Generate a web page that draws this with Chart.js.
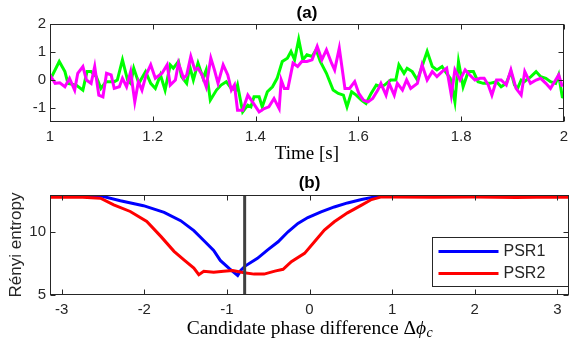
<!DOCTYPE html>
<html>
<head>
<meta charset="utf-8">
<script src="https://cdn.jsdelivr.net/npm/chart.js@4.4.0/dist/chart.umd.min.js"></script>
<style>
  html, body { margin: 0; padding: 0; background: #fff; }
  body { width: 574px; height: 345px; position: relative; overflow: hidden; }
  canvas { position: absolute; left: 0; }
  #c1 { top: 0; }
  #c2 { top: 170px; }
</style>
</head>
<body>
<canvas id="c1" width="574" height="170"></canvas>
<canvas id="c2" width="574" height="175"></canvas>
<script>
// ---------- (a) time series ----------
const timeGreen = [1.000,1.018,1.029,1.035,1.051,1.064,1.072,1.080,1.090,1.099,1.109,1.125,1.131,1.141,1.151,1.157,1.163,1.173,1.186,1.196,1.205,1.215,1.224,1.234,1.240,1.250,1.256,1.266,1.272,1.279,1.288,1.298,1.304,1.312,1.324,1.333,1.343,1.353,1.362,1.365,1.375,1.385,1.391,1.397,1.407,1.413,1.423,1.433,1.442,1.452,1.462,1.469,1.476,1.484,1.492,1.500,1.510,1.518,1.526,1.538,1.551,1.561,1.571,1.578,1.587,1.596,1.606,1.615,1.625,1.635,1.644,1.651,1.663,1.673,1.679,1.689,1.695,1.705,1.715,1.724,1.734,1.744,1.753,1.763,1.772,1.779,1.788,1.795,1.804,1.814,1.824,1.833,1.843,1.856,1.869,1.878,1.888,1.897,1.904,1.910,1.917,1.923,1.936,1.946,1.955,1.965,1.974,1.984,1.990,1.997,2.000];
const signalGreen = [0.00,0.66,0.30,-0.12,-0.18,-0.36,0.30,0.30,0.12,-0.30,-0.06,-0.06,0.00,0.72,0.00,-0.12,0.42,-0.12,0.30,-0.12,-0.30,0.18,-0.36,0.54,0.42,0.66,0.12,-0.12,0.48,0.00,0.60,0.06,0.36,-0.72,-0.36,-0.18,-0.06,-0.30,-0.36,-0.18,-1.14,-0.90,-0.96,-0.60,-0.60,-0.96,-0.42,-0.24,0.06,0.66,0.78,1.02,0.72,1.45,0.72,0.90,0.84,1.08,0.66,0.24,-0.36,-0.48,-0.54,-0.96,-0.42,-0.54,-0.72,-0.84,-0.48,-0.18,-0.24,-0.18,0.00,0.00,0.54,0.24,0.42,0.30,0.00,0.48,1.02,0.48,0.36,0.48,0.24,0.06,-0.78,0.66,-0.24,0.30,0.30,-0.06,-0.12,-0.12,-0.06,-0.24,-0.12,0.30,-0.18,-0.30,0.00,-0.06,0.12,0.30,0.12,0.06,-0.06,-0.12,0.18,-0.60,-0.62];
const timeMagenta = [1.000,1.010,1.019,1.029,1.038,1.048,1.054,1.064,1.071,1.080,1.087,1.095,1.103,1.110,1.119,1.125,1.135,1.141,1.149,1.157,1.165,1.172,1.179,1.187,1.196,1.205,1.218,1.228,1.234,1.244,1.250,1.260,1.266,1.274,1.282,1.288,1.296,1.304,1.313,1.320,1.327,1.337,1.346,1.353,1.359,1.365,1.375,1.385,1.394,1.407,1.417,1.426,1.436,1.446,1.450,1.456,1.463,1.473,1.482,1.490,1.500,1.510,1.520,1.529,1.538,1.548,1.554,1.563,1.574,1.583,1.593,1.601,1.610,1.619,1.628,1.638,1.644,1.654,1.660,1.670,1.676,1.686,1.694,1.702,1.715,1.724,1.734,1.744,1.753,1.763,1.772,1.781,1.788,1.798,1.808,1.817,1.827,1.837,1.845,1.853,1.860,1.869,1.878,1.888,1.897,1.907,1.917,1.924,1.935,1.946,1.955,1.965,1.974,1.984,1.990,1.997];
const signalMagenta = [0.18,-0.12,-0.10,-0.24,0.06,-0.36,0.24,0.48,0.00,-0.12,0.48,-0.54,-0.60,0.24,0.18,-0.30,-0.24,0.06,-0.24,0.30,-0.78,-0.06,-0.36,0.18,0.54,0.06,0.24,0.54,-0.18,0.00,0.60,0.06,0.18,0.84,0.36,0.42,0.18,-0.24,0.78,0.36,-0.12,0.54,0.18,-0.36,-0.18,-1.08,-1.08,-0.54,-0.78,-1.14,-1.02,-0.96,-0.66,-1.02,0.00,-0.30,-0.30,0.60,0.48,0.66,0.66,0.72,1.20,0.72,1.08,0.60,0.36,1.14,-0.30,-0.30,-0.06,-0.48,-0.72,-0.78,-0.66,-0.36,-0.12,-0.54,-0.12,-0.54,-0.12,-0.36,0.00,-0.30,-0.12,0.54,0.00,0.30,0.12,0.30,0.42,-0.54,0.36,0.00,0.36,0.18,0.00,0.06,0.06,-0.18,-0.54,0.00,0.00,-0.18,0.36,-0.30,-0.54,0.30,-0.12,0.00,0.06,-0.12,-0.30,0.00,0.18,-0.24];
const timeTicks = [1, 1.2, 1.4, 1.6, 1.8, 2];
const timeTickLabels = ['1', '1.2', '1.4', '1.6', '1.8', '2'];
const signalTicks = [-1, 0, 1, 2];
const signalTickLabels = ['-1', '0', '1', '2'];

// ---------- (b) Renyi entropy ----------
const phasePSR1 = [-3.1416,-2.8,-2.53,-2.29,-2.01,-1.76,-1.56,-1.40,-1.28,-1.16,-1.08,-0.97,-0.87,-0.83,-0.78,-0.63,-0.51,-0.38,-0.26,-0.14,-0.02,0.14,0.30,0.46,0.63,0.79,0.95,1.3,1.8,2.3,2.8,3.1416];
const entropyPSR1 = [12.88,12.89,12.88,12.49,12.10,11.57,10.91,10.12,9.33,8.54,7.75,7.09,6.55,6.98,7.30,7.91,8.57,9.23,10.03,10.69,11.16,11.61,12.00,12.32,12.59,12.80,12.88,12.90,12.90,12.89,12.90,12.89];
const phasePSR2 = [-3.1416,-2.8,-2.53,-2.37,-2.17,-1.97,-1.80,-1.64,-1.52,-1.40,-1.34,-1.28,-1.16,-1.04,-0.93,-0.79,-0.67,-0.55,-0.42,-0.32,-0.22,-0.06,0.06,0.18,0.30,0.46,0.63,0.75,0.87,1.0,1.5,2.0,2.5,3.0,3.1416];
const entropyPSR2 = [12.78,12.80,12.70,12.17,11.64,10.85,9.66,8.47,7.80,7.14,6.61,6.88,6.80,6.88,6.95,6.77,6.66,6.66,6.90,7.04,7.65,8.31,9.23,10.16,10.82,11.53,12.14,12.59,12.80,12.79,12.78,12.80,12.76,12.80,12.78];
const markerPhase = -0.785;
const phaseTicks = [-3, -2, -1, 0, 1, 2, 3];
const phaseTickLabels = ['-3', '-2', '-1', '0', '1', '2', '3'];
const entropyTicks = [5, 10];
const entropyTickLabels = ['5', '10'];
const seriesLabels = ['PSR1', 'PSR2'];

const SANS = '"Liberation Sans", Arial, Helvetica, sans-serif';
const SERIF = '"Liberation Serif", "Times New Roman", serif';
const AXC = '#262626';

const zip = (xs, ys) => xs.map((x, i) => ({x, y: ys[i]}));

function frameAndTicks(title) {
  return {
    id: 'frame_' + title.replace(/\W/g, ''),
    afterDatasetsDraw(chart) {
      const {ctx, chartArea: a, scales: {x, y}} = chart;
      ctx.save();
      ctx.strokeStyle = AXC;
      ctx.lineWidth = 1;
      const L = Math.round(a.left) + 0.5, R = Math.round(a.right) - 0.5;
      const T = Math.round(a.top) + 0.5, B = Math.round(a.bottom) - 0.5;
      ctx.strokeRect(L, T, R - L, B - T);
      const tl = 5;
      ctx.beginPath();
      x.ticks.forEach(t => {
        const px = Math.round(x.getPixelForValue(t.value)) + 0.5;
        ctx.moveTo(px, B); ctx.lineTo(px, B - tl);
        ctx.moveTo(px, T); ctx.lineTo(px, T + tl);
      });
      y.ticks.forEach(t => {
        const py = Math.round(y.getPixelForValue(t.value)) + 0.5;
        ctx.moveTo(L, py); ctx.lineTo(L + tl, py);
        ctx.moveTo(R, py); ctx.lineTo(R - tl, py);
      });
      ctx.stroke();
      // panel title
      ctx.fillStyle = '#000';
      ctx.font = 'bold 17px ' + SANS;
      ctx.textAlign = 'center';
      ctx.textBaseline = 'middle';
      ctx.fillText(title, (a.left + a.right) / 2, 13.5);
      ctx.restore();
    }
  };
}

function setTicks(values) {
  return s => { s.ticks = values.map(v => ({value: v})); };
}

// ---------- Chart (a) ----------
new Chart(document.getElementById('c1'), {
  type: 'scatter',
  data: {
    datasets: [
      { data: zip(timeMagenta, signalMagenta), borderColor: '#ff00ff', borderWidth: 3, showLine: true, pointRadius: 0, tension: 0 },
      { data: zip(timeGreen, signalGreen), borderColor: '#00ff00', borderWidth: 3, showLine: true, pointRadius: 0, tension: 0 }
    ]
  },
  options: {
    responsive: false, animation: false, events: [],
    layout: { padding: { left: 0, right: 5, top: 24, bottom: 0 } },
    plugins: { legend: { display: false }, tooltip: { enabled: false } },
    scales: {
      x: {
        type: 'linear', min: 1, max: 2,
        grid: { display: false, drawTicks: false }, border: { display: false },
        afterBuildTicks: setTicks(timeTicks),
        afterFit: s => { s.height = 48; },
        ticks: { maxRotation: 0, padding: 6, color: AXC, font: { family: SANS, size: 15 },
                 callback: (v, i) => timeTickLabels[i] },
        title: { display: true, text: 'Time [s]', color: '#000', font: { family: SERIF, size: 19 },
                 padding: { top: 0, bottom: 5 } }
      },
      y: {
        type: 'linear', min: -1.5, max: 2,
        grid: { display: false, drawTicks: false }, border: { display: false },
        afterBuildTicks: setTicks(signalTicks),
        afterFit: s => { s.width = 50; },
        ticks: { padding: 4, color: AXC, font: { family: SANS, size: 15 },
                 callback: (v, i) => signalTickLabels[i] }
      }
    }
  },
  plugins: [frameAndTicks('(a)')]
});

// ---------- Chart (b) ----------
const legendAndLabel = {
  id: 'legendAndLabel',
  afterDraw(chart) {
    const {ctx, chartArea: a} = chart;
    ctx.save();
    // legend box
    const bw = 136, bh = 49;
    const bx = Math.round(a.right) - 1 - bw + 0.5, by = Math.round(a.top) + 42 + 0.5;
    ctx.fillStyle = '#fff';
    ctx.fillRect(bx, by, bw, bh);
    ctx.strokeStyle = AXC; ctx.lineWidth = 1;
    ctx.strokeRect(bx, by, bw, bh);
    const entries = seriesLabels.map(lbl => chart.data.datasets.find(d => d.label === lbl));
    ctx.font = '16px ' + SANS;
    ctx.textAlign = 'left'; ctx.textBaseline = 'middle';
    entries.forEach((d, i) => {
      const ly = by + 14 + i * 22;
      ctx.strokeStyle = d.borderColor; ctx.lineWidth = 3;
      ctx.beginPath(); ctx.moveTo(bx + 6, ly); ctx.lineTo(bx + 66, ly); ctx.stroke();
      ctx.fillStyle = AXC;
      ctx.fillText(d.label, bx + 71, ly + 0.5);
    });
    // x-axis label with subscript
    const cy = 158;
    const f1 = '19.5px ' + SERIF, f2 = 'italic 19.5px ' + SERIF, f3 = 'italic 14px ' + SERIF;
    const p1 = 'Candidate phase difference \u0394', p2 = '\u03D5', p3 = 'c';
    ctx.font = f1; const w1 = ctx.measureText(p1).width;
    ctx.font = f2; const w2 = ctx.measureText(p2).width;
    ctx.font = f3; const w3 = ctx.measureText(p3).width;
    let sx = (a.left + a.right) / 2 - (w1 + w2 + w3) / 2;
    ctx.fillStyle = '#000'; ctx.textBaseline = 'alphabetic';
    const base = cy + 5.5;
    ctx.font = f1; ctx.fillText(p1, sx, base); sx += w1;
    ctx.font = f2; ctx.fillText(p2, sx, base); sx += w2 + 0.5;
    ctx.font = f3; ctx.fillText(p3, sx, base + 3.5);
    ctx.restore();
  }
};

new Chart(document.getElementById('c2'), {
  type: 'scatter',
  data: {
    datasets: [
      { label: 'marker', data: [{x: markerPhase, y: 5}, {x: markerPhase, y: 12.95}], borderColor: '#404040', borderWidth: 3, showLine: true, pointRadius: 0 },
      { label: seriesLabels[1], data: zip(phasePSR2, entropyPSR2), borderColor: '#ff0000', borderWidth: 3, showLine: true, pointRadius: 0, tension: 0 },
      { label: seriesLabels[0], data: zip(phasePSR1, entropyPSR1), borderColor: '#0000ff', borderWidth: 3, showLine: true, pointRadius: 0, tension: 0 }
    ]
  },
  options: {
    responsive: false, animation: false, events: [],
    layout: { padding: { left: 0, right: 5, top: 25, bottom: 0 } },
    plugins: { legend: { display: false }, tooltip: { enabled: false } },
    scales: {
      x: {
        type: 'linear', min: -Math.PI, max: Math.PI,
        grid: { display: false, drawTicks: false }, border: { display: false },
        afterBuildTicks: setTicks(phaseTicks),
        afterFit: s => { s.height = 50; },
        ticks: { maxRotation: 0, padding: 6, color: AXC, font: { family: SANS, size: 15 },
                 callback: (v, i) => phaseTickLabels[i] }
      },
      y: {
        type: 'linear', min: 5, max: 12.95,
        grid: { display: false, drawTicks: false }, border: { display: false },
        afterBuildTicks: setTicks(entropyTicks),
        afterFit: s => { s.width = 50; },
        ticks: { padding: 4, color: AXC, font: { family: SANS, size: 15 },
                 callback: (v, i) => entropyTickLabels[i] },
        title: { display: true, text: 'Rényi entropy', color: AXC, font: { family: SANS, size: 17 },
                 padding: { top: 6, bottom: 0 } }
      }
    }
  },
  plugins: [frameAndTicks('(b)'), legendAndLabel]
});
</script>
</body>
</html>
